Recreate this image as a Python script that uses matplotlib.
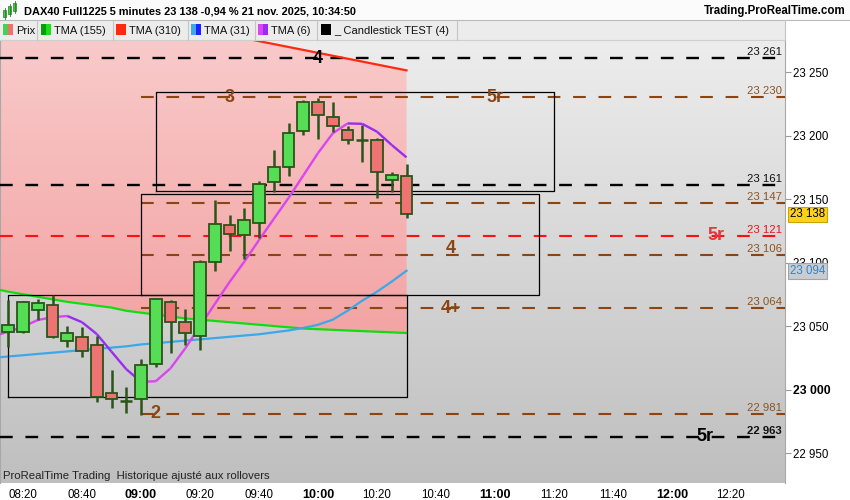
import numpy as np
import matplotlib.pyplot as plt
from matplotlib.collections import LineCollection
from matplotlib.colors import LinearSegmentedColormap

plt.rcParams['font.family'] = ['Liberation Sans', 'DejaVu Sans']

# 5 minute candles, 08:15 -> 10:30
opens  = [23045.5, 23045.5, 23063.0, 23066.3, 23038.0, 23041.1, 23034.8, 22997.0, 22991.2, 22992.3,
          23019.9, 23068.7, 23052.9, 23042.4, 23100.6, 23129.3, 23121.9, 23130.9, 23163.1, 23175.0,
          23203.3, 23226.1, 23214.8, 23204.1, 23196.7, 23196.2, 23164.7, 23167.9]
highs  = [23070.5, 23069.5, 23071.3, 23074.4, 23050.0, 23049.2, 23042.0, 23015.4, 23001.7, 23024.0,
          23071.8, 23070.5, 23063.1, 23102.0, 23149.2, 23137.4, 23142.9, 23164.2, 23188.6, 23209.6,
          23228.0, 23229.3, 23226.1, 23207.5, 23208.3, 23197.8, 23171.0, 23177.3]
lows   = [23033.7, 23044.5, 23054.7, 23040.5, 23033.7, 23025.8, 22989.9, 22985.2, 22981.7, 22980.0,
          23018.0, 23029.0, 23035.0, 23031.0, 23093.5, 23109.3, 23102.8, 23119.5, 23155.3, 23168.3,
          23200.4, 23197.5, 23203.0, 23193.1, 23179.4, 23151.0, 23155.7, 23135.3]
closes = [23050.6, 23068.7, 23068.0, 23041.1, 23044.3, 23030.1, 22994.3, 22992.5, 22991.2, 23019.1,
          23071.0, 23052.9, 23044.2, 23100.2, 23130.1, 23122.2, 23133.2, 23161.6, 23175.0, 23201.7,
          23226.1, 23215.9, 23207.2, 23196.2, 23196.7, 23171.0, 23168.7, 23138.0]

# moving averages, one value per candle starting at the candle before 08:15
tma6   = [23042.0, 23045.5, 23049.5, 23054.7, 23057.0, 23057.9, 23053.0, 23043.7, 23029.8, 23016.0,
          23006.1, 23006.5, 23016.7, 23032.4, 23050.0, 23067.3, 23084.6, 23100.6, 23117.7, 23134.3,
          23150.8, 23168.5, 23186.2, 23201.7, 23209.5, 23209.2, 23203.0, 23192.5, 23182.8]
tma31  = [23025.0, 23026.0, 23027.0, 23028.0, 23029.0, 23030.0, 23031.0, 23032.0, 23033.0, 23034.0,
          23035.5, 23036.5, 23037.5, 23038.5, 23039.5, 23040.5, 23041.5, 23042.5, 23043.5, 23045.0,
          23046.5, 23048.5, 23051.0, 23055.0, 23062.0, 23070.0, 23077.0, 23085.0, 23093.5]
tma155 = [23079.5, 23077.0, 23075.0, 23073.0, 23071.0, 23069.0, 23067.5, 23066.0, 23064.5, 23062.0,
          23060.5, 23059.0, 23057.5, 23056.0, 23055.0, 23054.0, 23053.0, 23052.0, 23051.0, 23050.0,
          23049.0, 23048.0, 23047.5, 23047.0, 23046.5, 23046.0, 23045.5, 23045.0, 23044.5]
tma310 = [23315.0, 23312.5, 23310.0, 23307.5, 23305.0, 23302.5, 23300.0, 23297.5, 23295.0, 23292.5,
          23290.0, 23288.0, 23286.0, 23284.0, 23282.0, 23280.0, 23278.5, 23276.6, 23274.3, 23272.0,
          23269.7, 23267.4, 23265.1, 23262.8, 23260.5, 23258.2, 23255.9, 23253.6, 23251.3]

# horizontal levels
levels       = [23261, 23230, 23161, 23147, 23121, 23106, 23064, 22981, 22963]
level_colors = ['black', 'brown', 'black', 'brown', 'red', 'brown', 'brown', 'brown', 'black']
level_starts = [None, 9, None, 9, None, 9, 9, 9, None]

# big level labels: text, candle index, price, colour
marks = [('4', 21, 23261, 'black'), ('3', 15, 23230, 'brown'), ('5r', 33, 23230, 'brown'),
         ('5r', 48, 23121, 'red'), ('4', 30, 23111, 'brown'), ('4+', 30, 23064, 'brown'),
         ('2', 10, 22981, 'brown'), ('5r', 47.2, 22963, 'black')]

# rectangles: left idx, right idx, low, high
boxes = [(0, 27, 22994.0, 23074.4), (9, 36, 23074.4, 23153.7), (10, 37, 23156.5, 23234.0)]

time_ticks = [1, 5, 9, 13, 17, 21, 25, 29, 33, 37, 41, 45, 49]
time_labels = ['08:20', '08:40', '09:00', '09:20', '09:40', '10:00', '10:20',
               '10:40', '11:00', '11:20', '11:40', '12:00', '12:20']
price_ticks = [22950, 23000, 23050, 23100, 23150, 23200, 23250]

last_price = 23138
tma31_last = 23094

cols = {'black': '#000000', 'brown': '#8b4513', 'red': '#ff1010'}
text_cols = {'black': '#111111', 'brown': '#8b5524', 'red': '#f01020'}

fig = plt.figure(figsize=(8.5, 5), dpi=100)
ax = fig.add_axes([0, 17 / 500, 785 / 850, 443 / 500])
ax.set_xlim(-0.56, 52.66)
ax.set_ylim(22926.4, 23275.2)

# gray gradient background
grad = np.linspace(0, 1, 256).reshape(-1, 1)
bg = LinearSegmentedColormap.from_list('bg', ['#bfbfbf', '#ededed'])
ax.imshow(grad, extent=[0, 1, 0, 1], transform=ax.transAxes, cmap=bg,
          aspect='auto', origin='lower', zorder=0)

# pink zone between TMA155 and TMA310
ma_x = np.arange(-1, len(closes))
zone = ax.fill_between(ma_x, tma155, tma310, facecolor='none', edgecolor='none')
pink = LinearSegmentedColormap.from_list('pink', ['#f09090', '#f9caca'])
im = ax.imshow(grad, extent=[0, 1, 0, 1], transform=ax.transAxes, cmap=pink,
               aspect='auto', origin='lower', zorder=1)
im.set_clip_path(zone.get_paths()[0], ax.transData)

# levels
for lv, c, st in zip(levels, level_colors, level_starts):
    x0 = -0.56 if st is None else st
    lw = 1.7 if c == 'black' else 1.5
    ax.plot([x0, 52.66], [lv, lv], color=cols[c], lw=lw, ls=(0, (6.1 * 1.5 / lw, 6.1 * 1.5 / lw)),
            zorder=3)
    ax.annotate(f'{lv:,}'.replace(',', ' '), xy=(0.996, lv), xycoords=('axes fraction', 'data'),
                xytext=(0, 3), textcoords='offset pixels', ha='right', va='baseline',
                fontsize=8.2, color=text_cols[c], fontweight='bold' if lv == 22963 else 'normal',
                zorder=6)

for txt, xi, yv, c in marks:
    ax.text(xi, yv, txt, color=cols[c] if c != 'red' else '#e8343a', fontsize=13,
            fontweight='bold', ha='center', va='center', zorder=6)

for l, r, lo, hi in boxes:
    ax.plot([l, r, r, l, l], [lo, lo, hi, hi, lo], color='black', lw=0.9, zorder=4)

# moving averages
ax.plot(ma_x, tma155, color='#10dd10', lw=1.6, zorder=3)
ax.plot(ma_x, tma310, color='#ff2a10', lw=1.6, zorder=3)
ax.plot(ma_x, tma31, color='#3ca8e8', lw=1.6, zorder=3)

pts = np.column_stack([ma_x, tma6])
segs = np.stack([pts[:-1], pts[1:]], axis=1)
seg_cols = ['#d946f0' if b > a else '#9a2cf0' for a, b in zip(tma6[:-1], tma6[1:])]
ax.add_collection(LineCollection(segs, colors=seg_cols, linewidths=1.7, zorder=5))

# candles
edge = '#2b5419'
for i, (o, h, l, c) in enumerate(zip(opens, highs, lows, closes)):
    ax.vlines(i, l, h, color=edge, lw=1.8, zorder=6)
    if abs(c - o) < 0.5:
        ax.hlines(o, i - 0.4, i + 0.4, color=edge, lw=1.8, zorder=7)
    else:
        fc = '#55de55' if c > o else '#ee7474'
        ax.bar(i, abs(c - o), bottom=min(o, c), width=0.8, color=fc, edgecolor=edge,
               lw=1.3, zorder=7)

# axes decoration
ax.yaxis.tick_right()
ax.set_yticks(price_ticks)
ax.set_yticklabels([f'{p:,}'.replace(',', ' ') for p in price_ticks], fontsize=8.3)
for lab, p in zip(ax.get_yticklabels(), price_ticks):
    if p == 23000:
        lab.set_fontweight('bold')
        lab.set_fontsize(8.8)
ax.tick_params(axis='y', length=4, width=0.8, color='#999999', pad=2)
ax.set_xticks(time_ticks)
ax.set_xticklabels(time_labels, fontsize=8.3)
for lab, t in zip(ax.get_xticklabels(), time_labels):
    if t.endswith(':00'):
        lab.set_fontweight('bold')
        lab.set_fontsize(9)
ax.tick_params(axis='x', length=0, pad=4)
for s in ['top', 'bottom']:
    ax.spines[s].set_visible(False)
ax.spines['left'].set_color('#a8a8a8')
ax.spines['right'].set_color('#a8a8a8')

# price tags on the right
ax.annotate(f'{last_price:,}'.replace(',', ' '), xy=(1, last_price),
            xycoords=('axes fraction', 'data'), xytext=(5, 0), textcoords='offset pixels',
            ha='left', va='center', fontsize=8.3, color='black', annotation_clip=False,
            zorder=10,
            bbox=dict(boxstyle='square,pad=0.15', fc='#ffd21a', ec='#c9a400', lw=0.8))
ax.annotate(f'{tma31_last:,}'.replace(',', ' '), xy=(1, tma31_last),
            xycoords=('axes fraction', 'data'), xytext=(5, -1), textcoords='offset pixels',
            ha='left', va='center', fontsize=8.3, color='#2f86c8', annotation_clip=False,
            zorder=10,
            bbox=dict(boxstyle='square,pad=0.15', fc='#c9ccd0', ec='#a0a4a8', lw=0.8))

ax.text(0.004, 0.016, 'ProRealTime Trading  Historique ajusté aux rollovers',
        transform=ax.transAxes, fontsize=8.2, color='#222222', va='center', zorder=8)

# header band in pixel coordinates
ov = fig.add_axes([0, 0, 1, 1], zorder=5)
ov.set_xlim(0, 850)
ov.set_ylim(500, 0)
ov.axis('off')
ov.add_patch(plt.Rectangle((0, 0), 850, 20, fc='#fbfbfb', ec='none'))
ov.add_patch(plt.Rectangle((0, 20), 785, 20, fc='#ececec', ec='none'))
ov.plot([0, 850], [20, 20], color='#bbbbbb', lw=0.8)
ov.plot([0, 785], [39.5, 39.5], color='#cfcfcf', lw=0.8)
for sx in [37, 113, 188, 255, 317, 457, 785]:
    ov.plot([sx, sx], [20, 40], color='#c4c4c4', lw=0.8)

# little candle icon
for bx, by, bh in [(5, 10, 7), (10, 6, 8), (15, 3, 8)]:
    ov.add_patch(plt.Rectangle((bx - 1.5, by), 3, bh, fc='#3ccf3c', ec='#2b7a2b', lw=0.5))
    ov.plot([bx, bx], [by - 2, by + bh + 2], color='#2b7a2b', lw=0.6)

ov.text(24, 11, 'DAX40 Full1225 5 minutes 23 138 -0,94 % 21 nov. 2025, 10:34:50',
        fontsize=7.9, fontweight='bold', va='center', ha='left')
ov.text(846, 11, 'Trading.ProRealTime.com', fontsize=8.3, fontweight='bold',
        va='center', ha='right')

legend_items = [(3, ['#4ccf4c', '#f07070'], 'Prix'),
                (41, ['#0a9a0a', '#18e018'], 'TMA (155)'),
                (116, ['#ff2a10', '#ff2a10'], 'TMA (310)'),
                (191, ['#3ca8e8', '#1a22ff'], 'TMA (31)'),
                (258, ['#d946f0', '#9a2cf0'], 'TMA (6)'),
                (321, ['#000000', '#000000'], '_ Candlestick TEST (4)')]
for lx, sw, name in legend_items:
    ov.add_patch(plt.Rectangle((lx, 24), 5, 11, fc=sw[0], ec='none'))
    ov.add_patch(plt.Rectangle((lx + 5, 24), 5, 11, fc=sw[1], ec='none'))
    ov.text(lx + 13, 30.5, name, fontsize=8.0, va='center', ha='left', color='#111111')

fig.savefig('out.png', dpi=100)
